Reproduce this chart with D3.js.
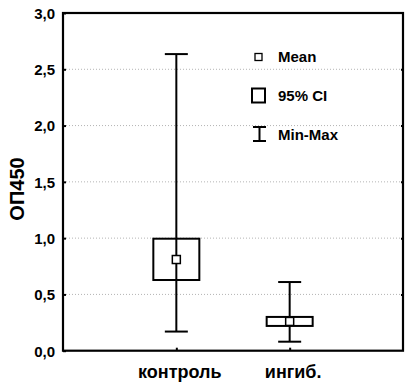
<!DOCTYPE html>
<html><head><meta charset="utf-8">
<script src="https://cdn.jsdelivr.net/npm/d3@7"></script>
<style>body{margin:0;background:#fff}svg{display:block}text{font-family:"Liberation Sans",Arial,sans-serif;font-weight:bold;fill:#000}</style>
</head><body><svg id="c" width="411" height="391"></svg>
<script>
const categories = ["контроль", "ингиб."];
const means = [0.81, 0.26];
const ciLow = [0.628, 0.22];
const ciHigh = [0.995, 0.30];
const mins = [0.17, 0.08];
const maxs = [2.635, 0.61];
const yTicks = [0, 0.5, 1.0, 1.5, 2.0, 2.5, 3.0];
const yLabel = "ОП450";
const legendItems = ["Mean", "95% CI", "Min-Max"];

const svg = d3.select("#c");
const L = 63, R = 403, T = 13, B = 350.7;
const y = d3.scaleLinear().domain([0, 3]).range([B, T]);
const x = d3.scalePoint().domain(categories).range([L, R]).padding(1);
const fmt = v => d3.format(".1f")(v).replace(".", ",");

// gridlines
svg.append("g").selectAll("line").data(yTicks.filter(v => v > 0 && v < 3)).join("line")
  .attr("x1", L).attr("x2", R).attr("y1", d => y(d)).attr("y2", d => y(d))
  .attr("stroke", "#b4b4b4").attr("stroke-width", 1).attr("stroke-dasharray", "1,2");

// left axis
const ya = d3.axisLeft(y).tickValues(yTicks).tickFormat(fmt).tickSize(-3).tickPadding(8);
const gy = svg.append("g").attr("transform", `translate(${L},0)`).call(ya);
gy.select(".domain").remove();
gy.selectAll(".tick line").attr("stroke", "#000").attr("stroke-width", 2);
gy.selectAll(".tick text").style("font-size", "15px").attr("fill", "#000").attr("dy", "0.36em");

// right ticks
const yr = d3.axisRight(y).tickValues(yTicks.filter(v => v > 0 && v < 3)).tickSize(-2).tickFormat("");
const gr = svg.append("g").attr("transform", `translate(${R},0)`).call(yr);
gr.select(".domain").remove();
gr.selectAll(".tick line").attr("stroke", "#000").attr("stroke-width", 2);

// bottom axis
const xa = d3.axisBottom(x).tickSize(-3).tickPadding(10);
const gx = svg.append("g").attr("transform", `translate(0,${B})`).call(xa);
gx.select(".domain").remove();
gx.selectAll(".tick line").attr("stroke", "#000").attr("stroke-width", 2);
gx.selectAll(".tick text").style("font-size", "18px").attr("fill", "#000").attr("dx", 3).attr("dy", "0.95em");

// frame
svg.append("rect").attr("x", L).attr("y", T).attr("width", R - L).attr("height", B - T)
  .attr("fill", "none").attr("stroke", "#000").attr("stroke-width", 2.2);

// y label
svg.append("text").attr("transform", `translate(24,189) rotate(-90)`).attr("text-anchor", "middle")
  .style("font-size", "20px").text(yLabel);

// plot marks
const g = svg.append("g");
const boxW = 46, capW = 23, mk = 8;
categories.forEach((c, i) => {
  const cx = x(c);
  g.append("line").attr("x1", cx).attr("x2", cx).attr("y1", y(maxs[i])).attr("y2", y(mins[i]))
    .attr("stroke", "#000").attr("stroke-width", 2);
  [maxs[i], mins[i]].forEach(v => g.append("line").attr("x1", cx - capW / 2).attr("x2", cx + capW / 2)
    .attr("y1", y(v)).attr("y2", y(v)).attr("stroke", "#000").attr("stroke-width", 2));
  g.append("rect").attr("x", cx - boxW / 2).attr("y", y(ciHigh[i])).attr("width", boxW)
    .attr("height", y(ciLow[i]) - y(ciHigh[i])).attr("fill", "#fff").attr("stroke", "#000").attr("stroke-width", 2);
  g.append("line").attr("x1", cx).attr("x2", cx).attr("y1", y(ciHigh[i])).attr("y2", y(ciLow[i]))
    .attr("stroke", "#000").attr("stroke-width", 2);
  g.append("rect").attr("x", cx - mk / 2).attr("y", y(means[i]) - mk / 2).attr("width", mk).attr("height", mk)
    .attr("fill", "#fff").attr("stroke", "#000").attr("stroke-width", 1.5);
});

// legend
const lg = svg.append("g");
lg.append("rect").attr("x", 255).attr("y", 53.5).attr("width", 7).attr("height", 7)
  .attr("fill", "#fff").attr("stroke", "#000").attr("stroke-width", 1.3);
lg.append("rect").attr("x", 252).attr("y", 88.5).attr("width", 13).attr("height", 14)
  .attr("fill", "#fff").attr("stroke", "#000").attr("stroke-width", 2);
lg.append("line").attr("x1", 253).attr("x2", 266).attr("y1", 127).attr("y2", 127).attr("stroke", "#000").attr("stroke-width", 2);
lg.append("line").attr("x1", 253).attr("x2", 266).attr("y1", 141).attr("y2", 141).attr("stroke", "#000").attr("stroke-width", 2);
lg.append("line").attr("x1", 259.5).attr("x2", 259.5).attr("y1", 127).attr("y2", 141).attr("stroke", "#000").attr("stroke-width", 2);
const ly = [62, 101, 140];
lg.selectAll("text").data(legendItems).join("text").attr("x", 278).attr("y", (d, i) => ly[i])
  .style("font-size", "15px").text(d => d);
</script></body></html>
